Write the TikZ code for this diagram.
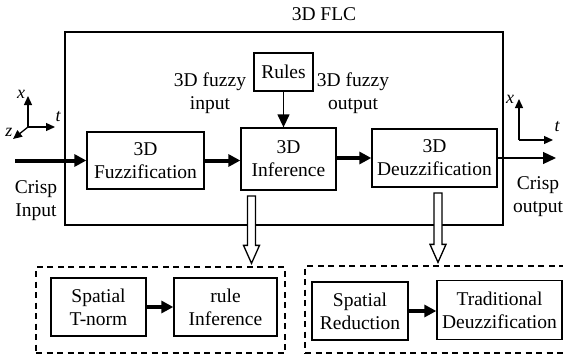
\documentclass[tikz,border=0pt]{standalone}
\usepackage{fontspec}
\setmainfont{Liberation Serif}
\newfontfamily\flcfont{Liberation Serif}
\usetikzlibrary{arrows.meta,calc,positioning}

\tikzset{
  blk/.style={draw, line width=1.3pt, inner sep=1pt},
  flow/.style={-{Triangle[length=12pt,width=12pt]}, line width=4pt},
  thinflow/.style={-{Triangle[length=13pt,width=12pt]}, line width=1.3pt},
  ax/.style={-{Triangle[length=9pt,width=8pt]}, line width=1.3pt},
  axlabel/.style={font=\flcfont\fontsize{18}{20}\selectfont\itshape},
  grp/.style={draw, line width=1.3pt, dash pattern=on 6pt off 4.5pt},
  hollowarrow/.style={draw, fill=white, line width=1.3pt, to path={
    let \p1=(\tikztostart), \p2=(\tikztotarget) in
    (\x1-4pt,\y1) -- (\x1+4pt,\y1) -- (\x1+4pt,\y2+18pt) -- (\x1+8pt,\y2+18pt)
    -- (\x1,\y2) -- (\x1-8pt,\y2+18pt) -- (\x1-4pt,\y2+18pt) -- cycle}}
}

\begin{document}
\begin{tikzpicture}[x=1pt,y=-1pt,
  every node/.style={font=\flcfont\fontsize{19.5}{23}\selectfont, align=center}]
\useasboundingbox (0,0) rectangle (563,356);
\clip (0,0) rectangle (563,356);

% main controller
\node[blk, minimum width=438pt, minimum height=193pt] (flc) at (284,128.5) {};
\node (flctitle) at (324,14) {3D FLC};

\node[blk, minimum width=59pt, minimum height=38pt] (rules) at (283.5,72) {Rules};
\node[blk, minimum width=117pt, minimum height=57pt] (fuzz) at (145.5,160.5) {3D\\Fuzzification};
\node[blk, minimum width=95pt, minimum height=62pt] (infer) at (288.5,159) {3D\\Inference};
\node[blk, minimum width=125pt, minimum height=58pt] (deuzz) at (434.5,158) {3D\\Deuzzification};

\node (fin) at (210,93) {3D fuzzy\\input};
\node (fout) at (353,93) {3D fuzzy\\output};
\node (cin) at (36,201) {Crisp\\Input};
\node (cout) at (538,197) {Crisp\\output};

\coordinate (src) at (15,160.5);
\coordinate (dst) at (556,158);

\draw[flow] (src) -- (fuzz);
\draw[flow] (fuzz) -- (infer.west |- fuzz);
\draw[flow] (infer.east |- deuzz) -- (deuzz);
\draw[thinflow] (deuzz) -- (dst);
\draw[thinflow] (rules) -- (rules |- infer.north);

% axes
\coordinate (o1) at (28,127);
\coordinate (x1) at (28,96);
\coordinate (t1) at (55,127);
\coordinate (z1) at (13,139);
\draw[ax] (o1) -- (x1);
\draw[ax] (o1) -- (t1);
\draw[ax] (o1) -- (z1);
\node[axlabel] (lx1) at (21,94) {x};
\node[axlabel] (lt1) at (58,117) {t};
\node[axlabel] (lz1) at (9,132) {z};

\coordinate (o2) at (519,140);
\coordinate (x2) at (519,99);
\coordinate (t2) at (553,140);
\draw[ax] (o2) -- (x2);
\draw[ax] (o2) -- (t2);
\node[axlabel] (lx2) at (510,99) {x};
\node[axlabel] (lt2) at (557,127) {t};

% detail groups
\node[grp, minimum width=249pt, minimum height=86pt] (lgrp) at (160.5,310) {};
\node[grp, minimum width=265pt, minimum height=87pt] (rgrp) at (437.5,309.5) {};

\node[blk, minimum width=95pt, minimum height=58pt] (tnorm) at (98.5,307) {Spatial\\T-norm};
\node[blk, minimum width=103pt, minimum height=58pt] (ruleinf) at (225.5,307) {rule\\Inference};
\node[blk, minimum width=96pt, minimum height=58pt] (sred) at (360,311) {Spatial\\Reduction};
\node[blk, minimum width=125pt, minimum height=59pt] (tdeuzz) at (499.5,310) {Traditional\\Deuzzification};

\draw[flow] (tnorm) -- (ruleinf);
\draw[flow] (sred) -- (tdeuzz.west |- sred);

\coordinate (h1) at (251.5,196);
\coordinate (h2) at (438,193);
\draw[hollowarrow] (h1) to ($(h1 |- lgrp.north)+(0,-3)$);
\draw[hollowarrow] (h2) to ($(h2 |- rgrp.north)+(0,-3)$);
\end{tikzpicture}
\end{document}
